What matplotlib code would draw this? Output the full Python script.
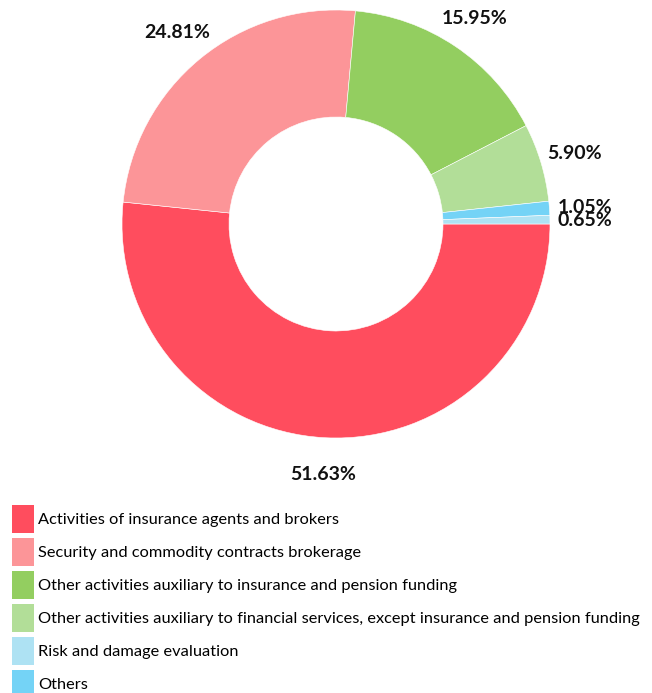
import matplotlib
matplotlib.use("Agg")
import matplotlib.pyplot as plt
from matplotlib.patches import Patch

# Data (drawing order, clockwise from 3 o'clock)
categories = [
    "Activities of insurance agents and brokers",
    "Security and commodity contracts brokerage",
    "Other activities auxiliary to insurance and pension funding",
    "Other activities auxiliary to financial services, except insurance and pension funding",
    "Others",
    "Risk and damage evaluation",
]
values = [51.63, 24.81, 15.95, 5.90, 1.05, 0.65]
colors = ["#FF4D5E", "#FC9598", "#93CE60", "#B2DE98", "#74D3F6", "#AEE2F3"]
legend_order = [0, 1, 2, 3, 5, 4]

W, H = 652, 693
fig = plt.figure(figsize=(W / 100, H / 100), dpi=100)

cx, cy, r = 336, 224, 214
ax = fig.add_axes([(cx - r) / W, (H - cy - r) / H, 2 * r / W, 2 * r / H])

labels = [f"{v:.2f}%" for v in values]
wedges, texts = ax.pie(
    values,
    colors=colors,
    startangle=0,
    counterclock=False,
    radius=1,
    labels=labels,
    labeldistance=1.165,
    wedgeprops=dict(width=0.5, edgecolor="white", linewidth=0.4),
    textprops=dict(fontsize=14, fontweight="bold", family="Lato", color="#111111"),
)
for t in texts:
    t.set_ha("center")
    t.set_va("center_baseline")
ax.set_xlim(-1, 1)
ax.set_ylim(-1, 1)
ax.set_aspect("equal")
ax.axis("off")

handles = [Patch(facecolor=colors[i], edgecolor="none") for i in legend_order]
leg_labels = [categories[i] for i in legend_order]
fig.legend(
    handles,
    leg_labels,
    loc="upper left",
    bbox_to_anchor=(12 / W, 1 - 505 / H),
    frameon=False,
    prop=dict(family="Lato", size=11.75),
    handlelength=1.33,
    handleheight=2.22,
    handletextpad=0.28,
    labelspacing=0.34,
    borderaxespad=0,
    borderpad=0,
)

fig.savefig("out.png", dpi=100, facecolor="white")
